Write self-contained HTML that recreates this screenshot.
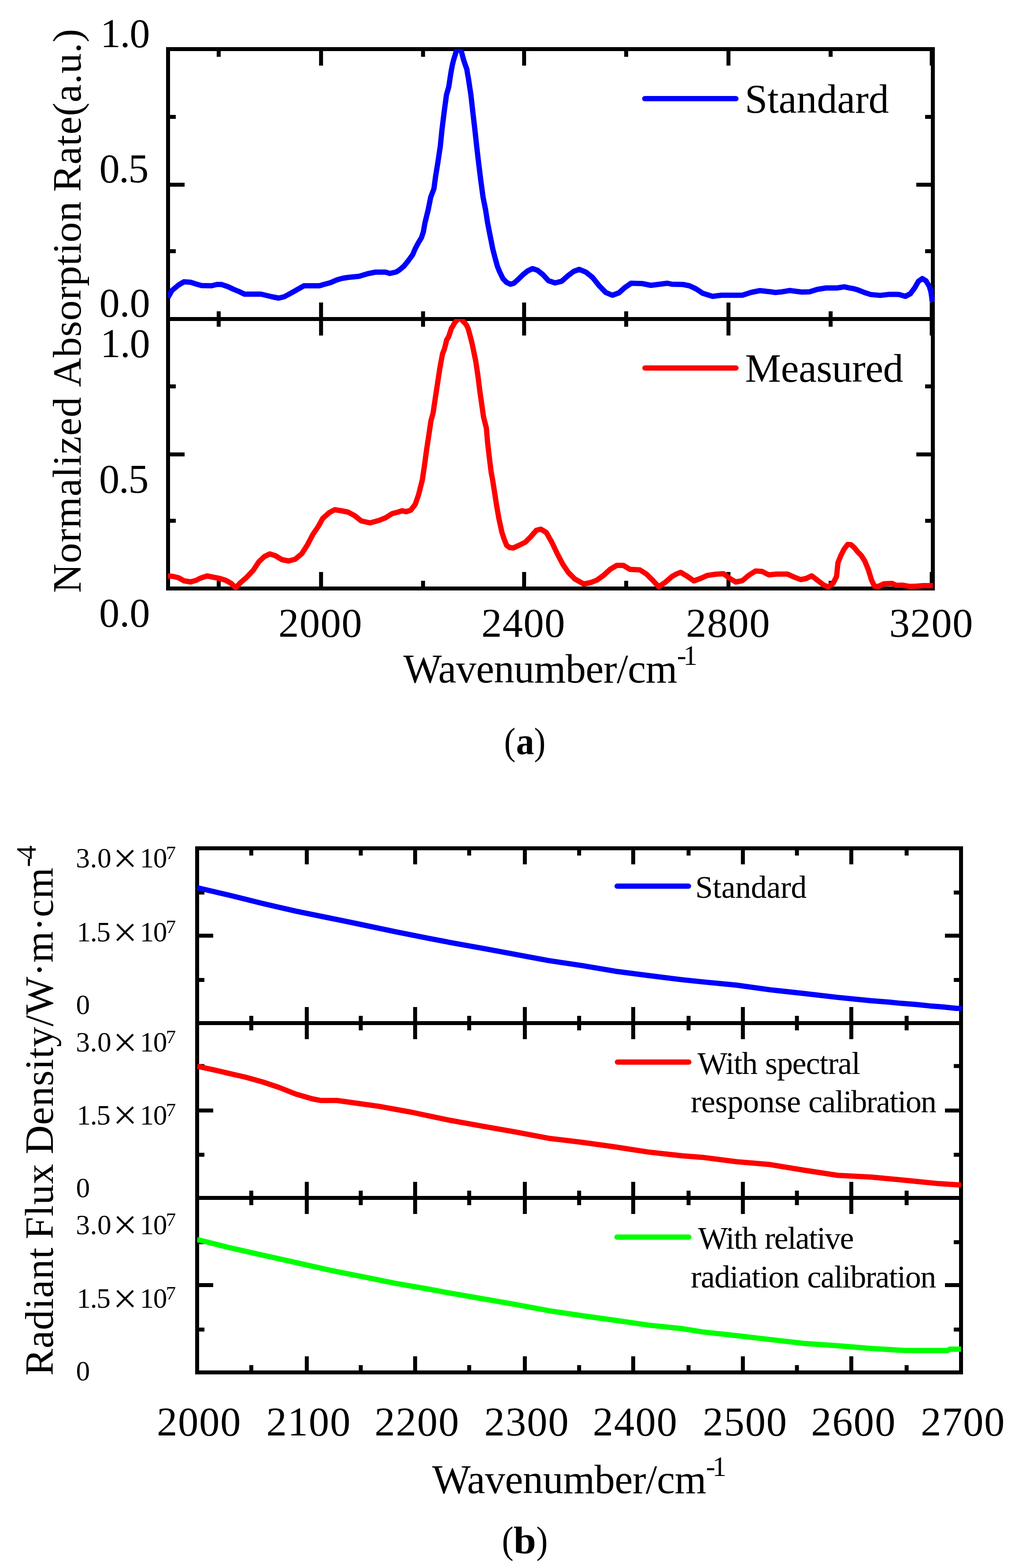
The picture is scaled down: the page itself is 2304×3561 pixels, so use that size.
<!DOCTYPE html>
<html><head><meta charset="utf-8"><title>Figure</title>
<style>html,body{margin:0;padding:0;background:#fff;}svg{display:block;}</style>
</head><body>
<svg width="2304" height="3561" viewBox="0 0 2304 3561" font-family="'Liberation Serif','Times New Roman',serif">
<rect width="2304" height="3561" fill="#fff"/>
<rect x="381.5" y="111.5" width="1736.0" height="1225.0" fill="none" stroke="#000" stroke-width="9"/>
<line x1="381.5" y1="724.5" x2="2117.5" y2="724.5" stroke="#000" stroke-width="9"/>
<path d="M496.4 111.5v17.5 M496.4 707.0v35.0 M496.4 1336.5v-17.5 M728.8 111.5v37.5 M728.8 687.0v75.0 M728.8 1336.5v-37.5 M960.3 111.5v17.5 M960.3 707.0v35.0 M960.3 1336.5v-17.5 M1189.7 111.5v37.5 M1189.7 687.0v75.0 M1189.7 1336.5v-37.5 M1421.4 111.5v17.5 M1421.4 707.0v35.0 M1421.4 1336.5v-17.5 M1653.6 111.5v37.5 M1653.6 687.0v75.0 M1653.6 1336.5v-37.5 M1885.5 111.5v17.5 M1885.5 707.0v35.0 M1885.5 1336.5v-17.5 M2115.0 111.5v37.5 M2115.0 687.0v75.0 M2115.0 1336.5v-37.5 M381.5 265.5h17.5 M2117.5 265.5h-17.5 M381.5 419.5h37.5 M2117.5 419.5h-37.5 M381.5 570.5h17.5 M2117.5 570.5h-17.5 M381.5 877.5h17.5 M2117.5 877.5h-17.5 M381.5 1032.0h37.5 M2117.5 1032.0h-37.5 M381.5 1182.7h17.5 M2117.5 1182.7h-17.5" stroke="#000" stroke-width="9" fill="none"/>
<defs><clipPath id="ca1"><rect x="381" y="111.5" width="1760" height="620"/></clipPath><clipPath id="ca2"><rect x="381" y="724.5" width="1760" height="615.5"/></clipPath><clipPath id="cb1"><rect x="447.5" y="1926.5" width="1760" height="420"/></clipPath><clipPath id="cb2"><rect x="447.5" y="2323.5" width="1760" height="420"/></clipPath><clipPath id="cb3"><rect x="447.5" y="2720.5" width="1760" height="420"/></clipPath></defs>
<g clip-path="url(#ca1)"><polyline points="381,676 390,660 405,647.5 417.5,640 432.5,641 445,645 457.5,648.5 480,649 492.5,646 502.5,646 517.5,651 530,657 542.5,662 555,668 592.5,668 605,671 617.5,674 632.5,677 645,674 660,666 675,657.5 690,649 725,649 735,646 750,642 765,635.5 777.5,632 790,630 815,627.5 835,621.5 852.5,618 875,618 885,621 900,617.5 908,612 916.9,604.4 927.3,591.4 936.7,578.4 942.2,565.5 949,552.5 956.8,539.5 961,526.5 964.7,505.8 971.9,476.8 977.7,447.8 985,428.5 988.9,399.5 993.7,370.5 999.5,331.9 1003.4,293.2 1008.2,254.6 1013.4,215.9 1018.8,196.6 1021.6,177.9 1023.2,167.5 1025,157.1 1027,146.8 1029.6,136.4 1032.8,126 1041.8,96.7 1049.7,126 1052.5,136.4 1056,146.8 1059.7,157.1 1061.3,167.5 1063.2,177.9 1069,216 1073.3,254.6 1077.8,293.2 1082,331.9 1086.5,370.5 1091.3,409.2 1096.5,447.8 1102.3,476.8 1106.8,505.8 1110.8,526.5 1114.7,546 1118.6,565.5 1123.6,584.9 1129,604.4 1134.2,617.4 1142,633.3 1150,641.5 1158.8,645.5 1166,643.5 1174.4,636.2 1187.4,623.6 1197.5,615.5 1208.75,610 1220,613.75 1232.5,623.75 1245,637.5 1260,642.5 1275,638.75 1290,625.5 1302.5,616.25 1315,611.75 1330,618 1345,630 1360,648.75 1375,664.25 1390,670.5 1405,665 1417.5,653.75 1432.5,643.25 1457.5,644 1477.5,648 1495,645.75 1515,643.25 1525,645.5 1550,646 1565,649 1580,656 1595,666 1617.5,673 1637.5,670.5 1685,670.5 1705,664 1725,660 1750,662.75 1760,664.25 1775,662.75 1792.5,659.75 1820,663.25 1837.5,662.75 1855,657.25 1875,654 1900,654 1916.4,651.3 1926.4,653.6 1937.9,655.7 1947.9,658.6 1962.1,664.3 1976.4,668.9 1997.9,670.9 2019.3,668.4 2040.7,668.7 2055,673.1 2066.4,667.1 2076.4,653.6 2085,638.6 2093.6,632.6 2102,637.9 2109.3,650 2113,662 2115,675 2116,686" fill="none" stroke="#0000ff" stroke-width="12" stroke-linejoin="round" stroke-linecap="butt"/></g>
<g clip-path="url(#ca2)"><polyline points="381,1308 392.5,1309 405,1312 417.5,1319 432.5,1321.5 445,1318 455,1313 470,1308 485,1311 500,1314 512.5,1318 525,1325 535,1335 545,1324 560,1311 575,1295 587.5,1276 600,1264 612.5,1258 625,1262 640,1271 655,1274 670,1270 685,1257.5 697.5,1238 710,1214 722.5,1195.5 732.5,1177.5 747.5,1164 760,1157.5 775,1160 790,1163 805,1171 820,1183 840,1187.5 860,1182 875,1176 890,1166.5 905,1162.5 912.5,1160 922.5,1162 932.5,1158.5 942.5,1145.5 950,1124 958.7,1089.7 963.7,1056.1 968.2,1022.5 973.3,988.9 978.3,955.3 983,938.5 988,904.9 993.1,871.3 998.2,837.6 1004.4,804 1008.7,792.9 1011.4,782.5 1013.8,772.1 1018.5,764.4 1021,756.6 1024.5,746.2 1029.2,738.4 1031.8,733.2 1043,721 1054.9,733.2 1059,738.4 1062.7,746.2 1065.5,756.6 1068.3,767 1070.9,777.3 1073.2,787.7 1080,820.8 1085,854.5 1089.2,888.1 1094,921.7 1097.6,946.9 1104,972.1 1106.9,1005.7 1110.8,1039.3 1115,1073 1117.8,1087.6 1122.6,1117.8 1127.3,1148 1132.6,1178.3 1139.2,1208.5 1144.1,1223.7 1150.2,1238.8 1157,1243.5 1165,1244.5 1177.5,1238.75 1192.5,1231.25 1205,1218.75 1217.5,1204.25 1227.5,1201.75 1240,1209.25 1252.5,1231.25 1265,1257.5 1277.5,1281.25 1290,1300 1305,1315 1325,1326.25 1340,1323.25 1355,1317.5 1370,1306.75 1385,1293 1400,1284 1415,1284 1430,1293 1452.5,1294.25 1467.5,1303.75 1482.5,1318.75 1495,1332.5 1510,1322.5 1525,1309.5 1535,1303.75 1545,1299.75 1560,1308.75 1575,1319.25 1590,1313.75 1605,1307 1625,1304 1642.5,1303 1655,1312.5 1670,1321.75 1685,1318.75 1700,1306.25 1715,1296.75 1730,1297.75 1745,1305.5 1762.5,1303.75 1787.5,1303.75 1802.5,1310.5 1817.5,1316.25 1830,1313.75 1842.5,1307.75 1857.5,1319.25 1870,1328.75 1880,1333 1891.2,1324.7 1899,1309 1902.1,1278 1908.4,1262.3 1916.2,1246.8 1924,1236.6 1931.8,1237 1939.5,1244 1947.3,1253.8 1955.1,1261.6 1962.9,1274 1970.7,1292.7 1978.5,1317.7 1984.7,1330.9 1994.1,1331.7 2006.6,1325.8 2025.3,1325 2034.6,1329.3 2048.6,1328.9 2064.2,1331.7 2079.8,1331.2 2095.4,1330.1 2117.5,1330.1" fill="none" stroke="#ff0000" stroke-width="12" stroke-linejoin="round" stroke-linecap="butt"/></g>
<line x1="1463.5" y1="224" x2="1670.5" y2="224" stroke="#0000ff" stroke-width="12" stroke-linecap="round"/>
<line x1="1464" y1="835.8" x2="1670.6" y2="835.8" stroke="#ff0000" stroke-width="12" stroke-linecap="round"/>
<rect x="447.5" y="1926.5" width="1734.0" height="1190.3000000000002" fill="none" stroke="#000" stroke-width="9"/>
<line x1="447.5" y1="2323.5" x2="2181.5" y2="2323.5" stroke="#000" stroke-width="9"/>
<line x1="447.5" y1="2720.5" x2="2181.5" y2="2720.5" stroke="#000" stroke-width="9"/>
<path d="M570.4 1926.5v16.5 M570.4 2307.0v33.0 M570.4 2704.0v33.0 M570.4 3116.8v-16.5 M696.4 1926.5v36.5 M696.4 2287.0v73.0 M696.4 2684.0v73.0 M696.4 3116.8v-36.5 M818.9 1926.5v16.5 M818.9 2307.0v33.0 M818.9 2704.0v33.0 M818.9 3116.8v-16.5 M942.3 1926.5v36.5 M942.3 2287.0v73.0 M942.3 2684.0v73.0 M942.3 3116.8v-36.5 M1065.0 1926.5v16.5 M1065.0 2307.0v33.0 M1065.0 2704.0v33.0 M1065.0 3116.8v-16.5 M1191.4 1926.5v36.5 M1191.4 2287.0v73.0 M1191.4 2684.0v73.0 M1191.4 3116.8v-36.5 M1314.6 1926.5v16.5 M1314.6 2307.0v33.0 M1314.6 2704.0v33.0 M1314.6 3116.8v-16.5 M1437.3 1926.5v36.5 M1437.3 2287.0v73.0 M1437.3 2684.0v73.0 M1437.3 3116.8v-36.5 M1563.0 1926.5v16.5 M1563.0 2307.0v33.0 M1563.0 2704.0v33.0 M1563.0 3116.8v-16.5 M1686.3 1926.5v36.5 M1686.3 2287.0v73.0 M1686.3 2684.0v73.0 M1686.3 3116.8v-36.5 M1809.0 1926.5v16.5 M1809.0 2307.0v33.0 M1809.0 2704.0v33.0 M1809.0 3116.8v-16.5 M1932.4 1926.5v36.5 M1932.4 2287.0v73.0 M1932.4 2684.0v73.0 M1932.4 3116.8v-36.5 M2058.0 1926.5v16.5 M2058.0 2307.0v33.0 M2058.0 2704.0v33.0 M2058.0 3116.8v-16.5 M447.5 2027.0h16.5 M2181.5 2027.0h-16.5 M447.5 2125.0h36.5 M2181.5 2125.0h-36.5 M447.5 2225.5h16.5 M2181.5 2225.5h-16.5 M447.5 2421.0h16.5 M2181.5 2421.0h-16.5 M447.5 2522.0h36.5 M2181.5 2522.0h-36.5 M447.5 2622.5h16.5 M2181.5 2622.5h-16.5 M447.5 2821.0h16.5 M2181.5 2821.0h-16.5 M447.5 2918.4h36.5 M2181.5 2918.4h-36.5 M447.5 3019.4h16.5 M2181.5 3019.4h-16.5" stroke="#000" stroke-width="9" fill="none"/>
<g clip-path="url(#cb1)"><polyline points="447.5,2016 520.3,2033 595.7,2051.8 671,2069.1 746.3,2084.5 821.6,2100 897,2115.8 972.3,2130.9 1020,2140.1 1095.3,2153.7 1170.7,2167.6 1246,2181.6 1321.3,2192.9 1396.6,2205.7 1472,2215.5 1547.3,2224.9 1595,2229.9 1671.6,2237.2 1748.3,2247.9 1824.9,2256.3 1901.5,2265.1 1978.1,2272.8 2020,2276 2045,2278.6 2080,2281.2 2110,2284.4 2140,2286.8 2170,2290 2184,2290" fill="none" stroke="#0000ff" stroke-width="12" stroke-linejoin="round" stroke-linecap="butt"/></g>
<g clip-path="url(#cb2)"><polyline points="447.5,2421.5 482.7,2429.2 520.3,2437.8 558,2446.5 595.7,2457 633.3,2469.5 671,2484.5 708.7,2495.5 727.5,2499.2 765.2,2499.2 802.8,2504.5 859.3,2512.4 934.6,2526 1020,2544 1095.3,2557.7 1170.7,2570.8 1246,2585.2 1321.3,2594.2 1396.6,2604.7 1472,2616.4 1547.3,2624.7 1595,2628.4 1671.6,2638.3 1748.3,2644.8 1824.9,2657.5 1901.5,2669.3 1978.1,2673.2 2054.8,2680.5 2131.4,2688.1 2181.5,2691.2" fill="none" stroke="#ff0000" stroke-width="12" stroke-linejoin="round" stroke-linecap="butt"/></g>
<g clip-path="url(#cb3)"><polyline points="447.5,2815 520.3,2833.3 595.7,2850.3 671,2867.2 746.3,2884.2 821.6,2899.2 897,2914.3 972.3,2927.5 1020,2936.4 1095.3,2949.5 1170.7,2962.7 1246,2976.7 1321.3,2988 1396.6,2998.5 1472,3009.4 1547.3,3017.3 1595,3024.9 1671.6,3033.3 1748.3,3042.1 1824.9,3051 1901.5,3056.3 1978.1,3062.5 2054.8,3067 2131.4,3067 2152,3067 2156,3064 2181.5,3064" fill="none" stroke="#00ff00" stroke-width="12" stroke-linejoin="round" stroke-linecap="butt"/></g>
<line x1="1400.9" y1="2012.4" x2="1562.8" y2="2012.4" stroke="#0000ff" stroke-width="12" stroke-linecap="round"/>
<line x1="1401.6" y1="2412" x2="1563.6" y2="2412" stroke="#ff0000" stroke-width="12" stroke-linecap="round"/>
<line x1="1400.5" y1="2809.4" x2="1563.6" y2="2809.4" stroke="#00ff00" stroke-width="12" stroke-linecap="round"/>
<g fill="#000">
<text x="1690.8" y="255.5" font-size="92.5" textLength="326.9" lengthAdjust="spacing">Standard</text>
<text x="1691.3" y="866.7" font-size="92" textLength="359.3" lengthAdjust="spacing">Measured</text>
<text x="227.8" y="107.0" font-size="92.5" textLength="112.7" lengthAdjust="spacing">1.0</text>
<text x="225.4" y="413.7" font-size="92.5" textLength="112.2" lengthAdjust="spacing">0.5</text>
<text x="225.4" y="718.5" font-size="92.5" textLength="115.3" lengthAdjust="spacing">0.0</text>
<text x="227.8" y="811.0" font-size="92.5" textLength="113.0" lengthAdjust="spacing">1.0</text>
<text x="225.0" y="1119.0" font-size="92.5" textLength="112.6" lengthAdjust="spacing">0.5</text>
<text x="225.0" y="1423.0" font-size="92.5" textLength="115.5" lengthAdjust="spacing">0.0</text>
<text x="631.9" y="1445.5" font-size="93" textLength="189.9" lengthAdjust="spacing">2000</text>
<text x="1092.8" y="1445.5" font-size="93" textLength="189.6" lengthAdjust="spacing">2400</text>
<text x="1556.9" y="1445.5" font-size="93" textLength="190.6" lengthAdjust="spacing">2800</text>
<text x="2018.4" y="1445.5" font-size="93" textLength="190.1" lengthAdjust="spacing">3200</text>
<text x="915.4" y="1549.5" font-size="92.5" textLength="622.0" lengthAdjust="spacing">Wavenumber/cm</text>
<text x="1536.7" y="1510.0" font-size="63.5" textLength="46.4" lengthAdjust="spacing">-1</text>
<text transform="translate(183.0,1343.8) rotate(-90)" x="-2.7" y="0" font-size="92" textLength="444.7" lengthAdjust="spacing">Normalized</text>
<text transform="translate(183.0,878.0) rotate(-90)" x="-0.9" y="0" font-size="92" textLength="421.3" lengthAdjust="spacing">Absorption</text>
<text transform="translate(183.0,433.0) rotate(-90)" x="-2.7" y="0" font-size="92" textLength="370.0" lengthAdjust="spacing">Rate(a.u.)</text>
<text x="1144.3" y="1712.5" font-size="86" textLength="26.2" lengthAdjust="spacingAndGlyphs">(</text>
<text x="1171.4" y="1712.5" font-size="86" font-weight="bold" textLength="41.1" lengthAdjust="spacingAndGlyphs">a</text>
<text x="1212.3" y="1712.5" font-size="86" textLength="26.2" lengthAdjust="spacingAndGlyphs">)</text>
<text x="1578.2" y="2038.7" font-size="72" textLength="253.1" lengthAdjust="spacing">Standard</text>
<text x="1583.3" y="2438.5" font-size="72" textLength="136.6" lengthAdjust="spacing">With</text>
<text x="1736.7" y="2438.5" font-size="72" textLength="216.3" lengthAdjust="spacing">spectral</text>
<text x="1568.0" y="2526.3" font-size="72" textLength="249.9" lengthAdjust="spacing">response</text>
<text x="1835.1" y="2526.3" font-size="72" textLength="291.0" lengthAdjust="spacing">calibration</text>
<text x="1584.4" y="2835.9" font-size="72" textLength="135.5" lengthAdjust="spacing">With</text>
<text x="1735.4" y="2835.9" font-size="72" textLength="203.1" lengthAdjust="spacing">relative</text>
<text x="1568.0" y="2924.4" font-size="72" textLength="247.0" lengthAdjust="spacing">radiation</text>
<text x="1832.2" y="2924.4" font-size="72" textLength="293.1" lengthAdjust="spacing">calibration</text>
<text x="172.2" y="1970.0" font-size="63.5" textLength="80.6" lengthAdjust="spacing">3.0</text><text x="252" y="1973.5" font-size="64" font-family="IPAGothic, 'Noto Sans CJK JP', sans-serif">×</text><text x="317.4" y="1970.0" font-size="63.5" textLength="62.0" lengthAdjust="spacing">10</text><text x="376.5" y="1951.0" font-size="42" textLength="22.8" lengthAdjust="spacingAndGlyphs">7</text>
<text x="174.3" y="2138.2" font-size="63.5" textLength="76.8" lengthAdjust="spacing">1.5</text><text x="252" y="2141.7" font-size="64" font-family="IPAGothic, 'Noto Sans CJK JP', sans-serif">×</text><text x="317.4" y="2138.2" font-size="63.5" textLength="62.0" lengthAdjust="spacing">10</text><text x="376.5" y="2119.2" font-size="42" textLength="22.8" lengthAdjust="spacingAndGlyphs">7</text>
<text x="172.5" y="2303.0" font-size="63.5">0</text>
<text x="172.2" y="2388.0" font-size="63.5" textLength="80.6" lengthAdjust="spacing">3.0</text><text x="252" y="2391.5" font-size="64" font-family="IPAGothic, 'Noto Sans CJK JP', sans-serif">×</text><text x="317.4" y="2388.0" font-size="63.5" textLength="62.0" lengthAdjust="spacing">10</text><text x="376.5" y="2369.0" font-size="42" textLength="22.8" lengthAdjust="spacingAndGlyphs">7</text>
<text x="174.3" y="2553.8" font-size="63.5" textLength="76.8" lengthAdjust="spacing">1.5</text><text x="252" y="2557.3" font-size="64" font-family="IPAGothic, 'Noto Sans CJK JP', sans-serif">×</text><text x="317.4" y="2553.8" font-size="63.5" textLength="62.0" lengthAdjust="spacing">10</text><text x="376.5" y="2534.8" font-size="42" textLength="22.8" lengthAdjust="spacingAndGlyphs">7</text>
<text x="172.5" y="2719.0" font-size="63.5">0</text>
<text x="172.2" y="2802.8" font-size="63.5" textLength="80.6" lengthAdjust="spacing">3.0</text><text x="252" y="2806.3" font-size="64" font-family="IPAGothic, 'Noto Sans CJK JP', sans-serif">×</text><text x="317.4" y="2802.8" font-size="63.5" textLength="62.0" lengthAdjust="spacing">10</text><text x="376.5" y="2783.8" font-size="42" textLength="22.8" lengthAdjust="spacingAndGlyphs">7</text>
<text x="174.3" y="2970.0" font-size="63.5" textLength="76.8" lengthAdjust="spacing">1.5</text><text x="252" y="2973.5" font-size="64" font-family="IPAGothic, 'Noto Sans CJK JP', sans-serif">×</text><text x="317.4" y="2970.0" font-size="63.5" textLength="62.0" lengthAdjust="spacing">10</text><text x="376.5" y="2951.0" font-size="42" textLength="22.8" lengthAdjust="spacingAndGlyphs">7</text>
<text x="172.5" y="3135.0" font-size="63.5">0</text>
<text x="355.9" y="3259.7" font-size="93" textLength="190.5" lengthAdjust="spacing">2000</text>
<text x="604.6" y="3259.7" font-size="93" textLength="190.9" lengthAdjust="spacing">2100</text>
<text x="850.2" y="3259.7" font-size="93" textLength="191.5" lengthAdjust="spacing">2200</text>
<text x="1099.3" y="3259.7" font-size="93" textLength="191.5" lengthAdjust="spacing">2300</text>
<text x="1345.5" y="3259.7" font-size="93" textLength="191.6" lengthAdjust="spacing">2400</text>
<text x="1595.2" y="3259.7" font-size="93" textLength="190.9" lengthAdjust="spacing">2500</text>
<text x="1840.9" y="3259.7" font-size="93" textLength="191.5" lengthAdjust="spacing">2600</text>
<text x="2089.9" y="3259.7" font-size="93" textLength="190.6" lengthAdjust="spacing">2700</text>
<text x="980.9" y="3391.0" font-size="92.5" textLength="622.5" lengthAdjust="spacing">Wavenumber/cm</text>
<text x="1602.6" y="3352.0" font-size="63.5" textLength="46.3" lengthAdjust="spacing">-1</text>
<text transform="translate(120.0,3121.6) rotate(-90)" x="-2.7" y="0" font-size="91.5" textLength="290.7" lengthAdjust="spacing">Radiant</text>
<text transform="translate(120.0,2811.9) rotate(-90)" x="-2.7" y="0" font-size="91.5" textLength="171.4" lengthAdjust="spacing">Flux</text>
<text transform="translate(120.0,2618.9) rotate(-90)" x="-2.7" y="0" font-size="91.5" textLength="651.3" lengthAdjust="spacing">Density/W·m·cm</text>
<text transform="translate(80.9,1966.8) rotate(-90)" x="-2.3" y="0" font-size="63.5" textLength="49.1" lengthAdjust="spacing">-4</text>
<text x="1139.2" y="3527.0" font-size="86" textLength="26.4" lengthAdjust="spacingAndGlyphs">(</text>
<text x="1165.7" y="3527.0" font-size="86" font-weight="bold" textLength="51.1" lengthAdjust="spacingAndGlyphs">b</text>
<text x="1217.3" y="3527.0" font-size="86" textLength="26.2" lengthAdjust="spacingAndGlyphs">)</text>
</g>
</svg>
</body></html>
